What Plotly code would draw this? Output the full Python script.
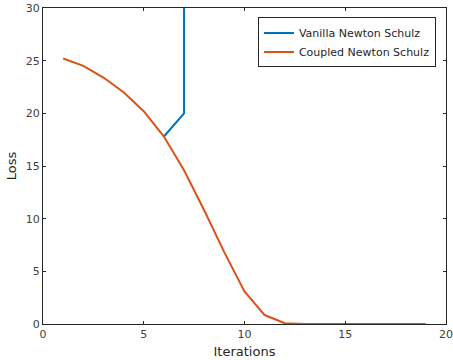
import plotly.graph_objects as go

iters_coupled = list(range(1, 20))
loss_coupled = [25.2, 24.5, 23.4, 22.0, 20.2, 17.8, 14.6, 10.8, 6.8, 3.1, 0.85, 0.07,
                0.0, 0.0, 0.0, 0.0, 0.0, 0.0, 0.0]
iters_vanilla = [6, 7, 8]
loss_vanilla = [17.8, 20.0, 1e6]

xticks = [0, 5, 10, 15, 20]
yticks = [0, 5, 10, 15, 20, 25, 30]

fig = go.Figure()
fig.add_trace(go.Scatter(x=iters_vanilla, y=loss_vanilla, mode="lines",
                         name="Vanilla Newton Schulz",
                         line=dict(color="#0072BD", width=2)))
fig.add_trace(go.Scatter(x=iters_coupled, y=loss_coupled, mode="lines",
                         name="Coupled Newton Schulz",
                         line=dict(color="#D95319", width=2)))

axis_common = dict(showline=True, linecolor="#262626", linewidth=1, mirror="ticks",
                   ticks="inside", ticklen=3, tickcolor="#262626", showgrid=False,
                   zeroline=False, automargin=False,
                   tickfont=dict(family="DejaVu Sans", size=11, color="#404040"))
fig.update_xaxes(range=[0, 20], tickvals=xticks,
                 title=dict(text="Iterations", font=dict(family="DejaVu Sans", size=13, color="#262626"), standoff=6),
                 **axis_common)
fig.update_yaxes(range=[0, 30], tickvals=yticks,
                 title=dict(text="Loss", font=dict(family="DejaVu Sans", size=13, color="#262626"), standoff=6),
                 **axis_common)
fig.update_layout(
    width=453, height=360,
    margin=dict(l=43, r=7, t=8, b=36, autoexpand=False),
    plot_bgcolor="white", paper_bgcolor="white",
    legend=dict(x=0.975, y=0.97, xanchor="right", yanchor="top",
                bordercolor="#262626", borderwidth=1, bgcolor="white",
                font=dict(family="DejaVu Sans", size=11, color="#262626"),
                tracegroupgap=0, itemwidth=30),
)
fig.write_html("out.html", config={"displayModeBar": False},
               post_script="document.body.style.margin='0';")
